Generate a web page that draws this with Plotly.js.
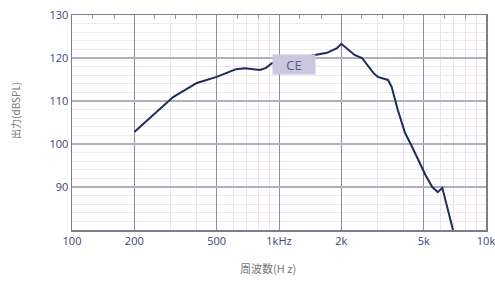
<!DOCTYPE html>
<html>
<head>
<meta charset="utf-8">
<script src="https://cdn.plot.ly/plotly-3.0.1.min.js"></script>
<style>html,body{margin:0;padding:0;background:#fff;}#chart{width:495px;height:286px;}</style>
</head>
<body>
<div id="chart"></div>
<script>
// Frequency response (Hz) and output (dB SPL)
const freqHz = [200, 249, 308, 401, 500, 620, 685, 809, 866, 924, 1185, 1493, 1703, 1906, 2000, 2318, 2518, 2850, 3000, 3363, 3500, 3750, 4061, 4400, 4694, 5100, 5500, 5850, 6150, 6929];
const outputDb = [102.8, 107.0, 110.9, 114.2, 115.6, 117.4, 117.6, 117.2, 117.7, 118.8, 119.6, 120.7, 121.2, 122.3, 123.3, 120.7, 120.0, 116.6, 115.6, 114.9, 113.3, 107.9, 102.6, 99.3, 96.3, 92.8, 90.0, 88.8, 89.8, 80.0];

const xTickVals = [100, 200, 500, 1000, 2000, 5000, 10000];
const xTickText = ['100', '200', '500', '1kHz', '2k', '5k', '10k'];
const yTickVals = [90, 100, 110, 120, 130];
const xMinorVals = [300, 400, 600, 700, 800, 900, 3000, 4000, 6000, 7000, 8000, 9000];
const topTickVals = [125, 160, 250, 315, 400, 630, 800, 1250, 1600, 2500, 3150, 4000, 6300, 8000];
const labelText = 'CE';
const labelFreq = 1185;
const labelDb = 118.6;

const tickFont = {family: 'Open Sans, Arial, sans-serif', size: 11, color: '#34457a'};

const data = [
  {x: freqHz, y: outputDb, type: 'scatter', mode: 'lines',
   line: {color: '#1f2b58', width: 2}, hoverinfo: 'skip', showlegend: false},
  {x: [100, 10000], y: [80, 80], xaxis: 'x2', yaxis: 'y', type: 'scatter', mode: 'lines',
   line: {width: 0}, opacity: 0, hoverinfo: 'skip', showlegend: false}
];

const layout = {
  width: 495, height: 286,
  margin: {l: 72, r: 9, t: 15, b: 56},
  paper_bgcolor: '#ffffff', plot_bgcolor: '#ffffff',
  showlegend: false,
  xaxis: {
    type: 'log', range: [2, 4],
    tickvals: xTickVals, ticktext: xTickText, ticks: '',
    tickfont: tickFont, ticklabeloverflow: 'allow',
    showgrid: true, gridcolor: '#8f8a9e', gridwidth: 1,
    minor: {tickvals: xMinorVals, showgrid: true, gridcolor: '#ece2ec', gridwidth: 1, ticks: ''},
    showline: true, linecolor: '#7f7a90', linewidth: 1.5, mirror: true,
    zeroline: false
  },
  xaxis2: {
    type: 'log', range: [2, 4], overlaying: 'x', anchor: 'y', side: 'top',
    tickvals: topTickVals, ticks: 'inside', ticklen: 4, tickcolor: '#9a94aa', tickwidth: 1,
    showticklabels: false, showgrid: false, showline: false, zeroline: false
  },
  yaxis: {
    range: [80, 130],
    tickvals: yTickVals, ticks: '',
    tickfont: tickFont,
    showgrid: true, gridcolor: '#b3afc0', gridwidth: 1.5,
    minor: {dtick: 2, showgrid: true, gridcolor: '#efe6ee', gridwidth: 1, ticks: ''},
    showline: true, linecolor: '#7f7a90', linewidth: 1.5, mirror: true,
    zeroline: false
  },
  annotations: [
    {x: Math.log10(labelFreq), y: labelDb, xref: 'x', yref: 'y', text: labelText, showarrow: false,
     bgcolor: '#cbc7df', font: {family: 'Open Sans, Arial, sans-serif', size: 13, color: '#5a5c8c'},
     borderpad: 2, width: 38, height: 15},
    {x: 0.473, y: -0.177, xref: 'paper', yref: 'paper', text: '周波数(H z)', showarrow: false,
     xanchor: 'center', yanchor: 'middle',
     font: {family: 'Noto Sans CJK JP, sans-serif', size: 11, color: '#777777'}},
    {x: -0.138, y: 0.558, xref: 'paper', yref: 'paper', text: '出力(dBSPL)', showarrow: false,
     textangle: -90, xanchor: 'center', yanchor: 'middle',
     font: {family: 'Noto Sans CJK JP, sans-serif', size: 10, color: '#777777'}}
  ]
};

Plotly.newPlot('chart', data, layout, {displayModeBar: false, staticPlot: true});
</script>
</body>
</html>
